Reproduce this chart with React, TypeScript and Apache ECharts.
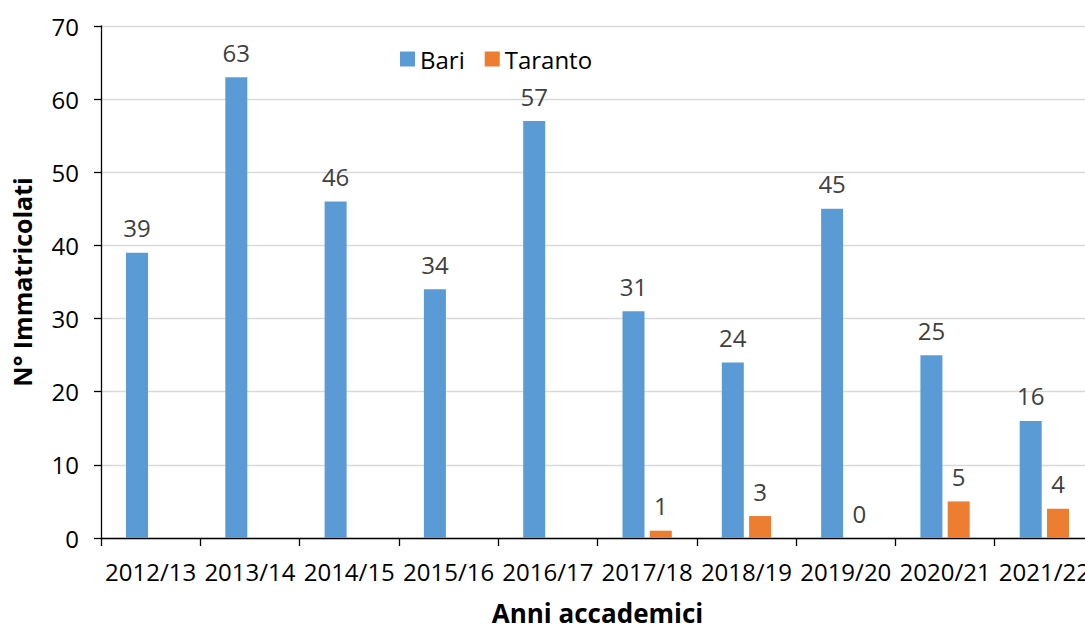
import React, { useEffect, useRef } from "react";
import * as echarts from "echarts";

const categories = ["2012/13", "2013/14", "2014/15", "2015/16", "2016/17", "2017/18", "2018/19", "2019/20", "2020/21", "2021/22"];
const bari = [39, 63, 46, 34, 57, 31, 24, 45, 25, 16];
const taranto: (number | null)[] = [null, null, null, null, null, 1, 3, 0, 5, 4];
const yTicks = { min: 0, max: 70, interval: 10 };

const FONT = "'Open Sans', sans-serif";

export default function App() {
  const ref = useRef<HTMLDivElement>(null);
  useEffect(() => {
    if (!ref.current) return;
    const chart = echarts.init(ref.current, undefined, { renderer: "svg" });
    const label = {
      show: true,
      position: "top" as const,
      distance: 13,
      color: "#404040",
      fontSize: 24,
      fontFamily: FONT,
    };
    chart.setOption({
      animation: false,
      backgroundColor: "#ffffff",
      textStyle: { fontFamily: FONT },
      grid: { left: 101, right: 6, top: 26, bottom: 89 },
      legend: {
        left: 395,
        top: 42,
        itemWidth: 15,
        itemHeight: 15,
        itemGap: 20,
        icon: "rect",
        textStyle: { fontSize: 24, color: "#000", fontFamily: FONT },
        data: ["Bari", "Taranto"],
      },
      xAxis: {
        type: "category",
        data: categories,
        name: "Anni accademici",
        nameLocation: "middle",
        nameGap: 62,
        nameTextStyle: { fontSize: 26, fontWeight: "bold", color: "#000", fontFamily: FONT },
        axisLine: { lineStyle: { color: "#000", width: 1.3 } },
        axisTick: { show: true, length: 8, lineStyle: { color: "#000", width: 1.3 } },
        axisLabel: { fontSize: 24, color: "#000", margin: 21, fontFamily: FONT, interval: 0 },
      },
      yAxis: {
        type: "value",
        min: yTicks.min,
        max: yTicks.max,
        interval: yTicks.interval,
        name: "N° Immatricolati",
        nameLocation: "middle",
        nameGap: 67,
        nameRotate: 90,
        nameTextStyle: { fontSize: 25, fontWeight: "bold", color: "#000", fontFamily: FONT },
        axisLine: { show: true, lineStyle: { color: "#000", width: 1.3 } },
        axisTick: { show: true, length: 7, lineStyle: { color: "#000", width: 1.3 } },
        axisLabel: { fontSize: 24, color: "#000", margin: 22, fontFamily: FONT },
        splitLine: { lineStyle: { color: "#d9d9d9", width: 1.3 } },
      },
      series: [
        {
          name: "Bari",
          type: "bar",
          data: bari,
          barWidth: 22,
          barGap: "24%",
          itemStyle: { color: "#5B9BD5" },
          label,
        },
        {
          name: "Taranto",
          type: "bar",
          data: taranto,
          barWidth: 22,
          itemStyle: { color: "#ED7D31" },
          label,
        },
      ],
    });
    return () => chart.dispose();
  }, []);
  return (
    <div style={{ position: "fixed", left: 0, top: 0, width: 1085, height: 631, overflow: "hidden", background: "#fff" }}>
      <div ref={ref} style={{ width: 1100, height: 631 }} />
    </div>
  );
}
